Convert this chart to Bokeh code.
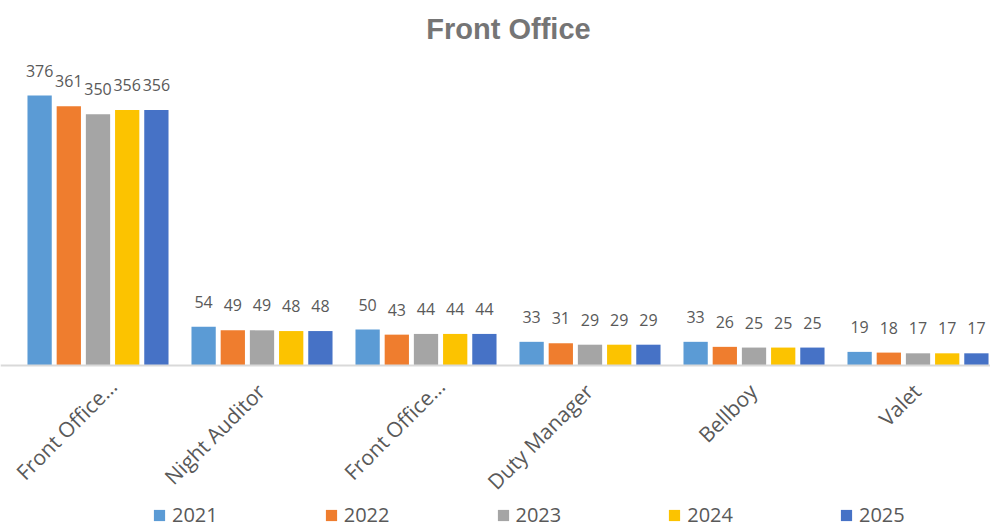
import math
from bokeh.plotting import figure
from bokeh.models import (ColumnDataSource, Range1d, LabelSet, Label, Legend, LegendItem, Span)
from bokeh.core.properties import value
from bokeh.transform import dodge
from bokeh.embed import file_html
from bokeh.resources import INLINE

title = "Front Office"
categories = ["Front Office…", "Night Auditor", "Front Office…", "Duty Manager", "Bellboy", "Valet"]
years = ["2021", "2022", "2023", "2024", "2025"]
v2021 = [376, 54, 50, 33, 33, 19]
v2022 = [361, 49, 43, 31, 26, 18]
v2023 = [350, 49, 44, 29, 25, 17]
v2024 = [356, 48, 44, 29, 25, 17]
v2025 = [356, 48, 44, 29, 25, 17]
series = [v2021, v2022, v2023, v2024, v2025]
colors = ["#5b9bd5", "#ef7d2e", "#a5a5a5", "#fcc300", "#4672c6"]

xs = list(range(len(categories)))
# truncated labels sit slightly further right/up (as the source renders them)
data = {"x": xs, "cat": categories, "zero": [0] * len(categories),
        "dx": [15 if c.endswith("…") else -1 for c in categories],
        "dy": [-17 if c.endswith("…") else -22 for c in categories]}
for y, vals in zip(years, series):
    data["v" + y] = vals
    data["l" + y] = [str(v) for v in vals]
src = ColumnDataSource(data)

p = figure(width=990, height=528, output_backend="svg", toolbar_location=None,
           x_range=Range1d(-0.5945, 5.442), y_range=Range1d(-227.0, 508.4),
           x_axis_location=None, y_axis_location=None,
           min_border_left=0, min_border_right=0,
           min_border_top=0, min_border_bottom=0, outline_line_color=None)

p.xgrid.visible = False
p.ygrid.visible = False

# title
p.add_layout(Label(x=2.503, y=469.4, text=title, text_align="center", text_baseline="middle",
                   text_font="Liberation Sans", text_font_size="29px", text_font_style="bold",
                   text_color="#757575"))

# category axis baseline
p.add_layout(Span(location=0, dimension="width", line_color="#d9d9d9", line_width=2))

# category labels
p.add_layout(LabelSet(x="x", y="zero", text="cat", source=src, angle=math.pi / 4,
                      text_align="right", text_baseline="middle", y_offset="dy", x_offset="dx",
                      text_font=value("Open Sans"), text_font_size=value("21px"),
                      text_color="#595959"))

pitch = 0.178
bw = 0.148
items = []
for i, (y, c) in enumerate(zip(years, colors)):
    off = (i - 2) * pitch
    r = p.vbar(x=dodge("x", off, range=p.x_range), top="v" + y, width=bw, source=src,
               fill_color=c, line_color=None)
    items.append(LegendItem(label=y, renderers=[r]))
    lbl = LabelSet(x=dodge("x", off, range=p.x_range), y="v" + y, text="l" + y, source=src,
                   text_align="center", text_baseline="bottom", y_offset=19,
                   text_font=value("Open Sans"), text_font_size=value("16px"),
                   text_color="#595959")
    p.add_layout(lbl)

legend = Legend(items=items, orientation="horizontal", location=(152, 0),
                border_line_color=None, background_fill_alpha=0, padding=0, margin=0,
                spacing=106, glyph_width=14, glyph_height=14, label_standoff=6,
                label_text_font="Open Sans", label_text_font_size="20px",
                label_text_color="#595959")
p.add_layout(legend, "center")

open("out.html", "w").write(file_html(p, INLINE))
